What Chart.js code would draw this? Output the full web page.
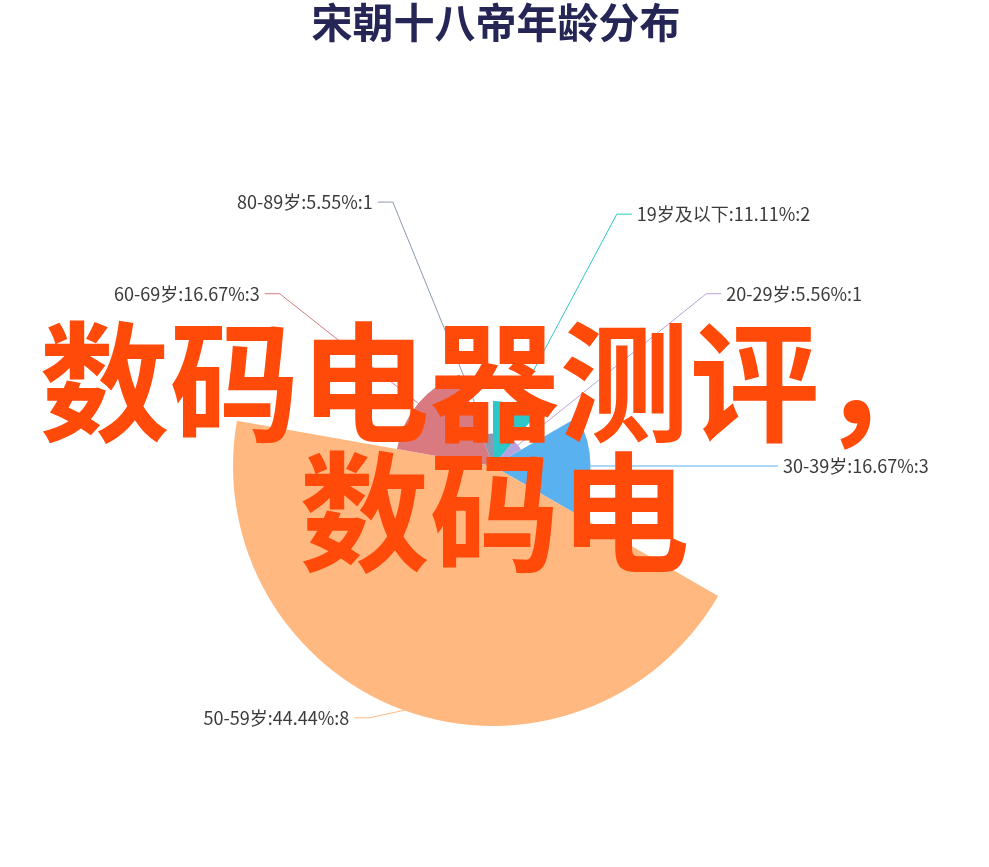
<!DOCTYPE html>
<html>
<head>
<meta charset="utf-8">
<script src="https://cdn.jsdelivr.net/npm/chart.js@4.4.1/dist/chart.umd.min.js"></script>
<style>
  html, body { margin: 0; padding: 0; background: #fff; }
  #wrap { position: relative; width: 989px; height: 867px; overflow: hidden; }
  #c { position: absolute; left: 0; top: 0; }
  #title { position: absolute; left: 0; top: 0; width: 992px; text-align: center;
    font: 700 41px/40px "Noto Sans CJK SC", sans-serif; color: #262656; }
  #overlay { position: absolute; left: 0; top: 309px; width: 989px; text-align: center;
    font: 700 130px/130px "Noto Sans CJK SC", sans-serif; color: #ff4a0a; pointer-events: none; }
</style>
</head>
<body>
<div id="wrap">
  <canvas id="c" width="989" height="867"></canvas>
  <div id="title">宋朝十八帝年龄分布</div>
  <div id="overlay">数码电器测评，<br>数码电</div>
</div>
<script>
const categories = ['19岁及以下', '20-29岁', '30-39岁', '50-59岁', '60-69岁', '80-89岁'];
const counts = [2, 1, 3, 8, 3, 1];
const percentLabels = ['11.11', '5.56', '16.67', '44.44', '16.67', '5.55'];
const sliceColors = ['#2ec7c9', '#b6a2de', '#5ab1ef', '#ffb980', '#d87a80', '#8d98b3'];

const total = counts.reduce((a, b) => a + b, 0);
const maxCount = Math.max(...counts);

const labelPlugin = {
  id: 'roseLabels',
  afterDatasetsDraw(chart) {
    const ctx = chart.ctx;
    const meta = chart.getDatasetMeta(0);
    const scale = chart.scales.r;
    const R = scale.drawingArea;
    const lineLen = 8, textR = R + 30;
    ctx.save();
    ctx.font = '18px "Noto Sans CJK SC", sans-serif';
    ctx.textBaseline = 'middle';
    meta.data.forEach((arc, i) => {
      const p = arc.getProps(['x', 'y', 'startAngle', 'endAngle', 'outerRadius'], true);
      const mid = (p.startAngle + p.endAngle) / 2;
      const cx = p.x, cy = p.y;
      const x1 = cx + p.outerRadius * Math.cos(mid);
      const y1 = cy + p.outerRadius * Math.sin(mid);
      const ly = cy + (R + lineLen) * Math.sin(mid);
      const dir = Math.cos(mid) < -1e-6 ? -1 : 1;
      const dy = Math.abs(ly - cy);
      const dx = dy < textR ? Math.sqrt(textR * textR - dy * dy) : Math.abs((R + lineLen) * Math.cos(mid));
      const tx = cx + dir * dx;
      const x3 = tx - dir * 5;
      const x2 = x3 - dir * 15;
      ctx.strokeStyle = sliceColors[i];
      ctx.lineWidth = 1;
      ctx.beginPath();
      ctx.moveTo(x1, y1);
      ctx.lineTo(x2, ly);
      ctx.lineTo(x3, ly);
      ctx.stroke();
      ctx.fillStyle = '#3a3a3a';
      ctx.textAlign = dir < 0 ? 'right' : 'left';
      ctx.fillText(categories[i] + ':' + percentLabels[i] + '%:' + counts[i], tx, ly);
    });
    ctx.restore();
  }
};

new Chart(document.getElementById('c'), {
  type: 'polarArea',
  data: {
    labels: categories,
    datasets: [{
      data: counts,
      backgroundColor: sliceColors,
      borderWidth: 0,
      angle: (c) => counts[c.dataIndex] / total * 360
    }]
  },
  options: {
    responsive: false,
    animation: false,
    layout: { padding: { left: 233, right: 236, top: 206, bottom: 141 } },
    plugins: { legend: { display: false }, tooltip: { enabled: false }, title: { display: false } },
    scales: {
      r: {
        min: 0,
        max: maxCount,
        startAngle: 0,
        display: true,
        ticks: { display: false },
        grid: { display: false },
        angleLines: { display: false },
        pointLabels: { display: false }
      }
    }
  },
  plugins: [labelPlugin]
});
</script>
</body>
</html>
